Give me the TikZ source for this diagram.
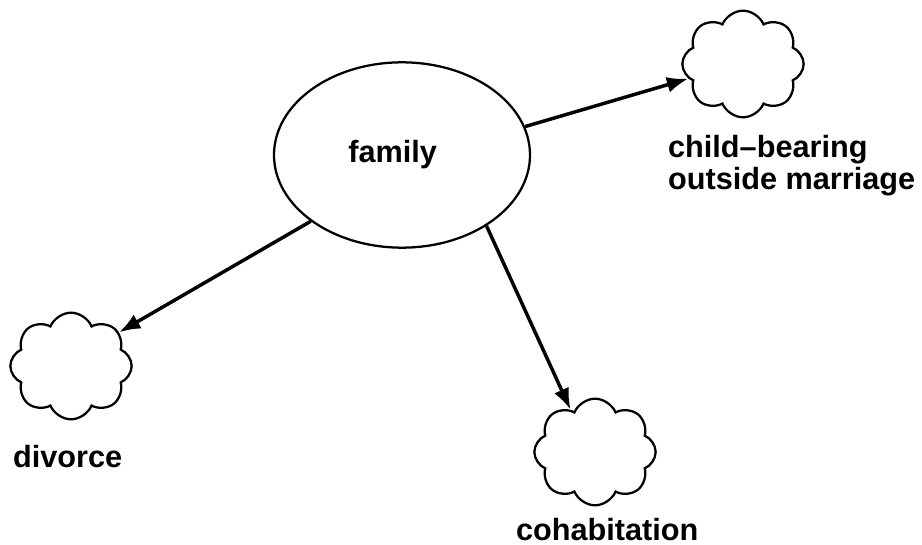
\documentclass[tikz,border=0pt]{standalone}
\usepackage{fontspec}
\setmainfont{Liberation Sans}
\usetikzlibrary{shapes,arrows,arrows.meta,shapes.misc}
\usetikzlibrary{positioning}

\begin{document}
\begin{tikzpicture}[x=0.75pt,y=-0.75pt,line width=1.7pt,
		every node/.style={font=\fontsize{23}{24}\selectfont\bfseries},
		puff/.style={draw,cloud,cloud puffs=8,cloud puff arc=135,cloud ignores aspect,
			minimum width=91pt,minimum height=80pt,inner sep=0pt},
		link/.style={line width=2.6pt,-{Latex[length=16pt,width=12pt]}}]
		\useasboundingbox (0,0) rectangle (922,545);
		% centro
		\node[draw,ellipse,minimum width=192pt,minimum height=139pt,inner sep=0pt] (fam) at (402,155) {family\hspace*{14pt}};
		% nuvole
		\node[puff] (kids) at (743,64) {};
		\node[puff] (div) at (71,366) {};
		\node[puff] (cohab) at (595,452) {};
		% etichette
		\node[anchor=north west,inner sep=0pt,align=left] (kidslbl) at (667,134) {child--bearing\\outside marriage};
		\node[anchor=base west,inner sep=0pt] (divlbl) at (12,468) {divorce};
		\node[anchor=base west,inner sep=0pt] (cohablbl) at (515,540) {cohabitation};
		% collegamenti
		\draw[link] (fam.13.5) -- (kids.195.8);
		\draw[link] (fam.216.7) -- (div.35);
		\draw[link] (fam.-40.4) -- (cohab.120);
	\end{tikzpicture}
\end{document}
